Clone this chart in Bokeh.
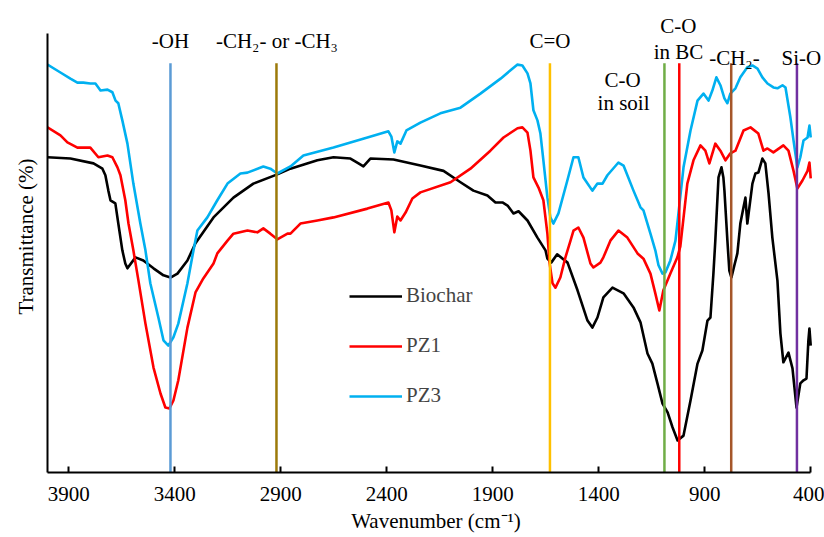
from bokeh.plotting import figure
from bokeh.models import Range1d, FixedTicker, Legend, LegendItem, Label
from bokeh.embed import file_html
from bokeh.resources import INLINE

FONT = "Liberation Serif"
FS = "21px"

# ---------------- data ----------------
biochar_w = [4000, 3892, 3783, 3741, 3727, 3713, 3703, 3680, 3666, 3647, 3633, 3623, 3585, 3548, 3500,
             3453, 3420, 3387, 3340, 3302, 3217, 3123, 3029, 2916, 2854, 2727, 2651, 2571, 2533, 2510,
             2477, 2368, 2241, 2132, 2052, 1991, 1925, 1887, 1854, 1830, 1802, 1778, 1736, 1689, 1651,
             1642, 1624, 1596, 1547, 1500, 1453, 1430, 1406, 1378, 1335, 1283, 1236, 1203, 1170, 1147,
             1123, 1099, 1075, 1052, 1028, 1000, 967, 934, 911, 887, 873, 859, 850, 835, 821,
             812, 807, 793, 784, 774, 760, 746, 732, 717, 708, 699, 675, 661, 647, 628,
             614, 599, 581, 557, 543, 529, 505, 486, 467, 449, 434, 420, 411, 406, 400]
biochar_t = [71.8, 71.5, 70.4, 69.2, 67.7, 64.2, 62.0, 61.3, 56.7, 50.6, 47.6, 46.5, 49.0, 48.3, 46.5,
             44.9, 44.4, 45.3, 48.3, 52.2, 58.1, 62.6, 65.8, 67.9, 69.2, 71.1, 71.8, 71.5, 70.4, 69.7,
             71.5, 71.3, 69.9, 68.7, 66.1, 64.2, 63.1, 61.5, 61.5, 60.8, 59.0, 59.5, 57.4, 53.5, 50.6,
             48.7, 47.8, 49.7, 47.8, 41.5, 34.6, 33.0, 35.3, 39.9, 42.1, 40.8, 37.6, 34.2, 27.1, 24.8,
             20.3, 15.7, 13.7, 10.3, 7.3, 8.4, 16.4, 24.8, 27.8, 34.6, 35.3, 45.3, 52.8, 67.2, 69.5,
             67.2, 64.2, 52.8, 46.0, 44.4, 47.2, 49.9, 56.7, 60.4, 62.6, 56.7, 65.8, 68.1, 68.3, 71.5,
             70.4, 63.6, 53.5, 43.7, 31.7, 25.1, 27.3, 23.7, 14.8, 20.3, 21.0, 21.4, 30.1, 32.8, 28.9]

pz1_w = [4000, 3939, 3906, 3859, 3798, 3760, 3717, 3694, 3670, 3656, 3633, 3618, 3595, 3571, 3538,
         3500, 3467, 3444, 3425, 3406, 3383, 3340, 3302, 3265, 3217, 3199, 3151, 3123, 3057, 3010,
         2982, 2949, 2916, 2868, 2854, 2807, 2727, 2651, 2491, 2392, 2378, 2364, 2350, 2335, 2311,
         2279, 2241, 2099, 2005, 1911, 1849, 1783, 1760, 1736, 1722, 1708, 1684, 1661, 1642, 1632,
         1618, 1604, 1581, 1557, 1533, 1519, 1496, 1472, 1439, 1425, 1392, 1378, 1345, 1307, 1265,
         1217, 1189, 1156, 1133, 1114, 1095, 1062, 1029, 1015, 982, 953, 920, 897, 878, 850,
         826, 802, 779, 755, 717, 684, 647, 623, 604, 576, 529, 505, 481, 463, 439,
         415, 406, 400]
pz1_t = [78.6, 76.8, 75.2, 74.0, 74.0, 71.8, 72.2, 71.8, 69.5, 67.7, 62.0, 56.7, 50.6, 43.7, 33.9,
         23.9, 18.0, 14.8, 14.6, 16.4, 21.0, 33.0, 41.0, 44.2, 47.6, 49.9, 52.8, 54.4, 55.1, 54.7,
         55.6, 54.4, 53.1, 54.4, 54.4, 56.7, 57.4, 58.1, 60.1, 61.5, 59.7, 54.7, 58.3, 57.4, 59.2,
         62.4, 63.8, 66.1, 69.2, 73.3, 76.3, 78.4, 78.6, 77.4, 73.3, 67.2, 64.9, 62.0, 54.4, 47.8,
         43.1, 42.1, 44.4, 49.0, 52.8, 55.1, 55.8, 53.5, 47.6, 46.7, 47.8, 49.0, 52.8, 55.1, 53.5,
         49.9, 48.7, 45.3, 40.8, 36.9, 41.5, 45.3, 49.0, 51.5, 65.8, 71.1, 74.5, 73.3, 70.4, 74.9,
         73.3, 71.1, 72.7, 73.3, 77.9, 78.6, 77.2, 73.3, 73.8, 72.9, 74.5, 73.3, 68.7, 64.7, 66.5,
         68.7, 70.6, 67.0]

pz3_w = [4000, 3939, 3892, 3859, 3831, 3798, 3774, 3750, 3717, 3694, 3679, 3666, 3647, 3623, 3595,
         3562, 3538, 3515, 3477, 3453, 3430, 3406, 3383, 3340, 3316, 3293, 3246, 3199, 3151, 3090,
         3057, 2982, 2949, 2916, 2854, 2793, 2651, 2491, 2392, 2378, 2364, 2350, 2335, 2307, 2241,
         2147, 2052, 1958, 1863, 1816, 1783, 1760, 1736, 1722, 1708, 1689, 1675, 1661, 1642, 1628,
         1614, 1590, 1548, 1519, 1496, 1472, 1430, 1406, 1382, 1359, 1307, 1283, 1236, 1203, 1189,
         1156, 1133, 1118, 1099, 1085, 1062, 1038, 1000, 967, 934, 906, 882, 864, 845, 826,
         807, 793, 779, 755, 732, 699, 675, 651, 628, 604, 576, 557, 533, 519, 496,
         481, 463, 449, 434, 415, 406, 400]
pz3_t = [92.9, 91.1, 89.7, 88.8, 88.8, 88.6, 88.6, 87.0, 87.2, 86.6, 84.7, 84.1, 80.2, 74.9, 65.8,
         56.7, 50.6, 43.1, 35.3, 30.1, 28.9, 30.8, 33.9, 43.1, 49.4, 55.1, 58.1, 62.0, 65.8, 68.1,
         68.3, 69.7, 69.2, 68.1, 69.7, 72.2, 74.0, 76.3, 77.7, 76.5, 72.9, 75.4, 74.9, 77.9, 79.7,
         81.8, 83.1, 86.3, 89.7, 91.6, 92.9, 92.7, 90.9, 88.6, 82.5, 80.2, 77.2, 71.1, 62.6, 58.1,
         56.7, 59.0, 66.5, 71.8, 71.8, 67.2, 64.2, 65.8, 65.8, 67.7, 70.6, 69.9, 64.2, 60.4, 59.7,
         54.4, 50.6, 47.2, 45.3, 45.6, 48.3, 52.8, 69.5, 77.9, 84.7, 86.3, 84.7, 87.0, 90.0, 88.2,
         85.2, 84.1, 86.3, 87.5, 90.0, 92.3, 92.7, 92.0, 90.0, 88.6, 87.7, 87.5, 88.2, 87.7, 80.9,
         75.6, 69.5, 71.8, 75.6, 76.3, 79.0, 76.3]

series_names = ["Biochar", "PZ1", "PZ3"]
series_colors = ["#000000", "#FF0000", "#00B0F0"]

# band marker lines (wavenumber)
band_pos = [3420, 2920, 1630, 1090, 1020, 775, 465]
band_colors = ["#5B9BD5", "#9C7A0A", "#FFC000", "#70AD47", "#FF0000", "#A5562A", "#7030A0"]
band_top = 93.2

# band annotations: text, x (wavenumber), baseline y
ann_text = ["-OH", "-CH\u2082- or -CH\u2083", "C=O", "C-O", "in soil", "C-O", "in BC", "-CH\u2082-", "Si-O"]
ann_x = [3420, 2918, 1630, 1288, 1283, 1024, 1024, 760, 444]
ann_y = [98.2, 98.2, 98.2, 89.4, 84.1, 101.6, 95.7, 94.5, 94.5]

x_ticks = [3900, 3400, 2900, 2400, 1900, 1400, 900, 400]

# ---------------- figure ----------------
p = figure(width=824, height=537, output_backend="svg", toolbar_location=None,
           x_range=Range1d(4000, 335), y_range=Range1d(0, 107.5),
           min_border_left=47, min_border_right=0, min_border_top=0, min_border_bottom=65)
p.title.visible = False
p.outline_line_color = None
p.xgrid.visible = False
p.ygrid.visible = False
p.background_fill_color = "white"
p.border_fill_color = "white"

xa = p.xaxis[0]
xa.bounds = (400, 4000)
xa.ticker = FixedTicker(ticks=x_ticks)
xa.axis_line_width = 2
xa.axis_line_color = "black"
xa.major_tick_in = 6
xa.major_tick_out = 0
xa.major_tick_line_width = 2
xa.minor_tick_in = 0
xa.minor_tick_out = 0
xa.major_label_text_font = FONT
xa.major_label_text_font_size = FS
xa.major_label_text_color = "black"
xa.major_label_standoff = 14
xa.axis_label = "Wavenumber (cm\u207b\u00b9)"
xa.axis_label_text_font = FONT
xa.axis_label_text_font_size = FS
xa.axis_label_text_font_style = "normal"
xa.axis_label_text_color = "black"
xa.axis_label_standoff = 5

ya = p.yaxis[0]
ya.bounds = (0, 100)
ya.ticker = FixedTicker(ticks=[])
ya.axis_line_width = 2
ya.axis_line_color = "black"
ya.major_tick_in = 0
ya.major_tick_out = 0
ya.minor_tick_in = 0
ya.minor_tick_out = 0
ya.major_label_text_font_size = "0px"
ya.major_label_standoff = 0
ya.axis_label = "Transmittance (%)"
ya.axis_label_text_font = FONT
ya.axis_label_text_font_size = FS
ya.axis_label_text_font_style = "normal"
ya.axis_label_text_color = "black"
ya.axis_label_standoff = 10

renderers = []
for w, t, c in zip([biochar_w, pz1_w, pz3_w], [biochar_t, pz1_t, pz3_t], series_colors):
    r = p.line(w, t, line_color=c, line_width=2.6, line_join="round")
    renderers.append(r)

p.segment(x0=band_pos, y0=[0] * len(band_pos), x1=band_pos, y1=[band_top] * len(band_pos),
          line_color=band_colors, line_width=2.5)

for txt, x, y in zip(ann_text, ann_x, ann_y):
    p.add_layout(Label(x=x, y=y, text=txt, text_align="center", text_baseline="alphabetic",
                       text_font=FONT, text_font_size=FS, text_color="black"))

legend = Legend(items=[LegendItem(label=n, renderers=[r]) for n, r in zip(series_names, renderers)],
                location=(302, 64), padding=0, spacing=25, margin=0,
                glyph_width=53, glyph_height=22, label_height=22, label_standoff=4,
                border_line_color=None, background_fill_alpha=0,
                label_text_font=FONT, label_text_font_size=FS)
p.add_layout(legend)

open("out.html", "w").write(file_html(p, INLINE))
